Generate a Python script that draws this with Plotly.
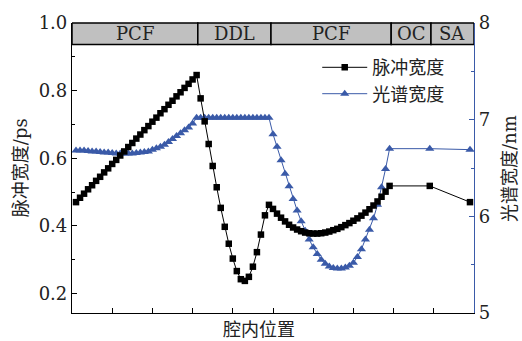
import numpy as np
import plotly.graph_objects as go

# Cavity position sampling (step 0.1) for each section
x_pcf1 = np.round(np.arange(1, 32) * 0.1, 1)        # 0.1 .. 3.1
x_ddl = np.round(np.arange(32, 50) * 0.1, 1)        # 3.2 .. 4.9
x_pcf2 = np.round(np.arange(50, 80) * 0.1, 1)       # 5.0 .. 7.9
x_oc_sa = [8.9, 9.9]

# Pulse width (ps)
pulse_pcf1 = [0.470, 0.483, 0.495, 0.508, 0.520, 0.533, 0.545, 0.558, 0.570, 0.583,
              0.595, 0.608, 0.620, 0.633, 0.645, 0.658, 0.670, 0.683, 0.695, 0.708,
              0.720, 0.733, 0.745, 0.758, 0.770, 0.783, 0.795, 0.808, 0.820, 0.833, 0.846]
pulse_ddl = [0.777, 0.709, 0.642, 0.577, 0.514, 0.453, 0.397, 0.347, 0.303, 0.266,
             0.242, 0.237, 0.249, 0.279, 0.322, 0.374, 0.431, 0.462]
pulse_pcf2 = [0.450, 0.436, 0.424, 0.413, 0.403, 0.395, 0.389, 0.384, 0.380, 0.378,
              0.377, 0.377, 0.378, 0.380, 0.383, 0.387, 0.391, 0.396, 0.402, 0.408,
              0.415, 0.422, 0.430, 0.439, 0.449, 0.460, 0.472, 0.486, 0.501, 0.518]
pulse_oc_sa = [0.518, 0.470]

# Spectral width (nm)
spec_pcf1 = [6.68, 6.68, 6.68, 6.675, 6.67, 6.67, 6.665, 6.66, 6.66, 6.655,
             6.65, 6.65, 6.65, 6.65, 6.65, 6.655, 6.66, 6.665, 6.67, 6.69,
             6.705, 6.72, 6.74, 6.77, 6.80, 6.83, 6.86, 6.89, 6.92, 6.96, 7.02]
spec_ddl = [7.02] * 18
spec_pcf2 = [6.85, 6.72, 6.58, 6.44, 6.31, 6.18, 6.06, 5.95, 5.85, 5.76,
             5.68, 5.61, 5.55, 5.51, 5.48, 5.465, 5.46, 5.46, 5.47, 5.49,
             5.52, 5.58, 5.66, 5.76, 5.86, 5.98, 6.12, 6.30, 6.49, 6.70]
spec_oc_sa = [6.70, 6.69]

# Cavity sections shown in the top band
section_names = ["PCF", "DDL", "PCF", "OC", "SA"]
section_edges = [0.0, 3.13, 4.95, 7.94, 8.93, 10.0]

x_all = list(x_pcf1) + list(x_ddl) + list(x_pcf2) + x_oc_sa
pulse = pulse_pcf1 + pulse_ddl + pulse_pcf2 + pulse_oc_sa
spec = spec_pcf1 + spec_ddl + spec_pcf2 + spec_oc_sa

BLUE = "#3a5aa8"
FONT = "DejaVu Serif, Noto Sans CJK SC"
TXT = "#222"

fig = go.Figure()
fig.add_trace(go.Scatter(
    x=x_all, y=pulse, yaxis="y2", name="脉冲宽度", mode="lines+markers",
    line=dict(color="black", width=1),
    marker=dict(symbol="square", size=6.5, color="black"),
))
fig.add_trace(go.Scatter(
    x=x_all, y=spec, yaxis="y", name="光谱宽度", mode="lines+markers",
    line=dict(color=BLUE, width=1),
    marker=dict(symbol="triangle-up", size=8, color=BLUE),
))

band_bottom = 0.926
for name, a, b in zip(section_names, section_edges[:-1], section_edges[1:]):
    fig.add_shape(type="rect", xref="x", yref="paper", x0=a, x1=b,
                  y0=band_bottom, y1=1.0, fillcolor="#c0c0c0",
                  line=dict(color="black", width=1.5), layer="above")
    fig.add_annotation(x=(a + b) / 2, y=(band_bottom + 1.0) / 2, xref="x", yref="paper",
                       text=name, showarrow=False, font=dict(size=18, color=TXT),
                       xanchor="center", yanchor="middle")

# Axis titles
fig.add_annotation(x=-0.129, y=0.5, xref="paper", yref="paper", text="脉冲宽度/ps",
                   textangle=-90, showarrow=False, font=dict(size=18, color=TXT),
                   xanchor="center", yanchor="middle")
fig.add_annotation(x=1.087, y=0.5, xref="paper", yref="paper", text="光谱宽度/nm",
                   textangle=-90, showarrow=False, font=dict(size=18, color=TXT),
                   xanchor="center", yanchor="middle")
fig.add_annotation(x=0.465, y=-0.057, xref="paper", yref="paper", text="腔内位置",
                   showarrow=False, xanchor="center", yanchor="middle",
                   font=dict(size=18, color=TXT))

fig.update_layout(
    width=522, height=341,
    margin=dict(l=72, r=48, t=16, b=28),
    paper_bgcolor="white", plot_bgcolor="white",
    font=dict(family=FONT, size=18, color=TXT),
    showlegend=True,
    legend=dict(x=0.61, y=0.91, xanchor="left", yanchor="top",
                bgcolor="rgba(0,0,0,0)", font=dict(size=18),
                itemwidth=45, tracegroupgap=0),
    xaxis=dict(range=[0, 10], dtick=1, tick0=0, showticklabels=False,
               ticks="inside", ticklen=5, tickcolor="black",
               showline=True, linecolor="black", linewidth=1.2,
               showgrid=False, zeroline=False),
    yaxis=dict(side="right", range=[5, 8], dtick=1, tick0=5,
               ticks="inside", ticklen=5, tickcolor=BLUE,
               minor=dict(dtick=0.5, ticks="inside", ticklen=3, tickcolor=BLUE),
               showline=True, linecolor=BLUE, linewidth=1.2,
               showgrid=False, zeroline=False, tickfont=dict(size=18, color=TXT)),
    yaxis2=dict(overlaying="y", side="left", range=[0.142, 1.0],
                tickvals=[0.2, 0.4, 0.6, 0.8, 1.0], ticktext=["0.2", "0.4", "0.6", "0.8", "1.0"],
                ticks="inside", ticklen=5, tickcolor="black",
                minor=dict(tickvals=[0.3, 0.5, 0.7, 0.9], ticks="inside", ticklen=3, tickcolor="black"),
                showline=True, linecolor="black", linewidth=1.2,
                showgrid=False, zeroline=False, tickfont=dict(size=18, color=TXT)),
)

fig.write_html("out.html")
